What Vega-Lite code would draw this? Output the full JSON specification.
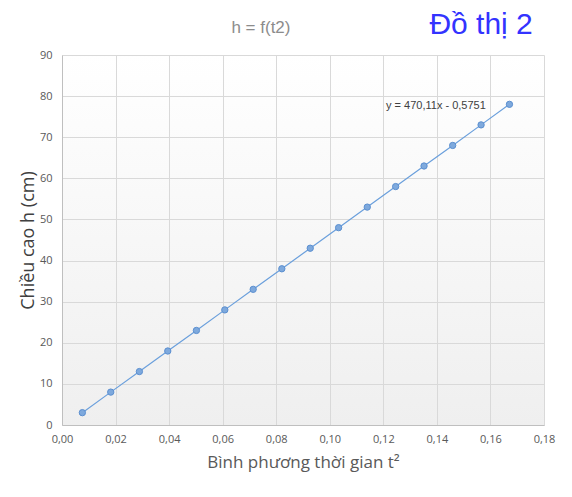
{
  "$schema": "https://vega.github.io/schema/vega-lite/v6.json",
  "autosize": "none",
  "width": 482,
  "height": 370,
  "padding": {"left": 62, "top": 55, "right": 28, "bottom": 72},
  "background": "#ffffff",
  "config": {
    "locale": {"number": {"decimal": ",", "thousands": ".", "grouping": [3], "currency": ["", ""]}},
    "view": {
      "stroke": null,
      "fill": {"gradient": "linear", "x1": 0, "y1": 0, "x2": 0, "y2": 1, "stops": [{"offset": 0, "color": "#ffffff"}, {"offset": 1, "color": "#efefef"}]}
    },
    "font": "Open Sans"
  },
  "datasets": {
    "points": [
      {"t2": 0.0076, "h": 3},
      {"t2": 0.0182, "h": 8},
      {"t2": 0.0289, "h": 13},
      {"t2": 0.0395, "h": 18},
      {"t2": 0.0502, "h": 23},
      {"t2": 0.0608, "h": 28},
      {"t2": 0.0714, "h": 33},
      {"t2": 0.0821, "h": 38},
      {"t2": 0.0927, "h": 43},
      {"t2": 0.1033, "h": 48},
      {"t2": 0.114, "h": 53},
      {"t2": 0.1246, "h": 58},
      {"t2": 0.1352, "h": 63},
      {"t2": 0.1459, "h": 68},
      {"t2": 0.1565, "h": 73},
      {"t2": 0.1671, "h": 78}
    ],
    "labels": [
      {"t2": 0.121, "h": 76.9, "label": "y = 470,11x - 0,5751", "kind": "eq"},
      {"t2": 0.1565, "h": 95.2, "label": "Đồ thị 2", "kind": "big"},
      {"t2": 0.0743, "h": 95.4, "label": "h = f(t2)", "kind": "title"}
    ]
  },
  "layer": [
    {
      "data": {"name": "points"},
      "mark": {"type": "line", "color": "#6a9fdc", "strokeWidth": 1.2},
      "encoding": {
        "x": {
          "field": "t2", "type": "quantitative",
          "scale": {"domain": [0, 0.18], "nice": false, "zero": false},
          "axis": {
            "values": [0, 0.02, 0.04, 0.06, 0.08, 0.1, 0.12, 0.14, 0.16, 0.18],
            "format": ".2f",
            "title": "Bình phương thời gian t²",
            "titleFont": "Open Sans", "titleFontSize": 17, "titleFontWeight": "normal", "titleColor": "#595959",
            "titlePadding": 10,
            "labelFont": "Open Sans", "labelFontSize": 11, "labelColor": "#595959", "labelPadding": 8,
            "ticks": false,
            "domainColor": "#bfbfbf",
            "gridColor": "#d9d9d9",
            "labelFlush": false
          }
        },
        "y": {
          "field": "h", "type": "quantitative",
          "scale": {"domain": [0, 90], "nice": false},
          "axis": {
            "values": [0, 10, 20, 30, 40, 50, 60, 70, 80, 90],
            "title": "Chiều cao h (cm)",
            "titleFont": "Open Sans", "titleFontSize": 18, "titleFontWeight": "normal", "titleColor": "#404040",
            "titlePadding": 2,
            "labelFont": "Open Sans", "labelFontSize": 11, "labelColor": "#595959", "labelPadding": 10,
            "ticks": false,
            "domainColor": "#bfbfbf",
            "gridColor": "#d9d9d9"
          }
        }
      }
    },
    {
      "data": {"name": "points"},
      "mark": {"type": "point", "filled": true, "size": 40, "fill": "#7ea9dd", "stroke": "#5b8fd0", "strokeWidth": 1, "opacity": 1},
      "encoding": {
        "x": {"field": "t2", "type": "quantitative"},
        "y": {"field": "h", "type": "quantitative"}
      }
    },
    {
      "data": {"name": "labels"},
      "transform": [{"filter": "datum.kind === 'eq'"}],
      "mark": {"type": "text", "align": "left", "baseline": "alphabetic", "fontSize": 11, "font": "Liberation Sans", "color": "#404040"},
      "encoding": {
        "x": {"field": "t2", "type": "quantitative"},
        "y": {"field": "h", "type": "quantitative"},
        "text": {"field": "label"}
      }
    },
    {
      "data": {"name": "labels"},
      "transform": [{"filter": "datum.kind === 'big'"}],
      "mark": {"type": "text", "align": "center", "baseline": "alphabetic", "fontSize": 30, "font": "Liberation Sans", "color": "#3333ff"},
      "encoding": {
        "x": {"field": "t2", "type": "quantitative"},
        "y": {"field": "h", "type": "quantitative"},
        "text": {"field": "label"}
      }
    },
    {
      "data": {"name": "labels"},
      "transform": [{"filter": "datum.kind === 'title'"}],
      "mark": {"type": "text", "align": "center", "baseline": "alphabetic", "fontSize": 17, "font": "Liberation Sans", "color": "#8c8c8c"},
      "encoding": {
        "x": {"field": "t2", "type": "quantitative"},
        "y": {"field": "h", "type": "quantitative"},
        "text": {"field": "label"}
      }
    }
  ]
}
